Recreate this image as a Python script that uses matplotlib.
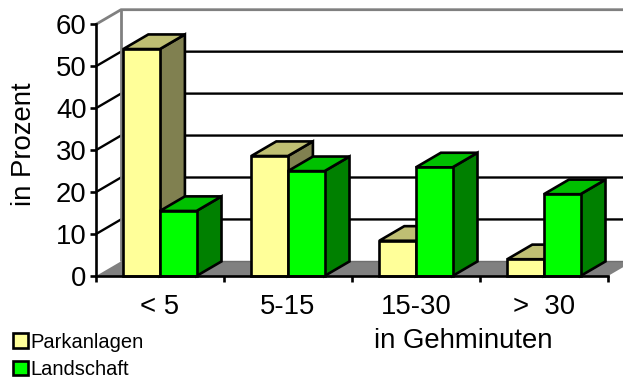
import matplotlib
matplotlib.use("Agg")
import matplotlib.pyplot as plt
from matplotlib.patches import Polygon, Patch

plt.rcParams["font.family"] = ["Liberation Sans", "DejaVu Sans"]

categories = ["< 5", "5-15", "15-30", ">  30"]
parkanlagen = [54.1, 28.6, 8.4, 4.0]
landschaft = [15.5, 25.0, 25.9, 19.5]
y_ticks = [0, 10, 20, 30, 40, 50, 60]

W, H = 623, 381
X0, X1, Y0, Y60 = 96, 608, 276, 24.3
DX = 25 / 128          # oblique depth in category units
DY = 14.6 / 4.195      # oblique depth in value units
BAR_W = 36.6 / 128
BAR_START = 27.3 / 128
LW = 1.9
FS = 19.8

fig = plt.figure(figsize=(W / 100, H / 100), dpi=100)
ax = fig.add_axes([X0 / W, 1 - Y0 / H, (X1 - X0) / W, (Y0 - Y60) / H])
ax.set_xlim(0, 4)
ax.set_ylim(0, 60)
ax.patch.set_visible(False)


def poly(points, color, edge="black", lw=LW, z=2):
    ax.add_patch(Polygon(points, closed=True, facecolor=color, edgecolor=edge,
                         linewidth=lw, joinstyle="miter", clip_on=False, zorder=z))


def seg(xs, ys, color="black", lw=1.7, z=1):
    ax.plot(xs, ys, color=color, lw=lw, clip_on=False, zorder=z,
            solid_capstyle="butt")


# Floor of the 3D box
poly([(0, 0), (4, 0), (4 + DX, DY), (DX, DY)], "#808080", edge="none", lw=0, z=1)
seg([DX, 4 + DX], [DY, DY], "#6e6e6e", 1.0, 1.1)

# Back and side walls with their gridlines
for v in y_ticks[1:-1]:
    seg([0, DX, 4 + DX], [v, v + DY, v + DY])
seg([0, DX, 4 + DX], [60, 60 + DY, 60 + DY], "#808080", 2.0)
seg([DX, DX], [DY, 60 + DY], "#808080", 2.0)

# Oblique columns: two per category, left to right
z = 3
for i in range(len(categories)):
    for j, (vals, front, top, side) in enumerate([
        (parkanlagen, "#FFFF99", "#BFBF73", "#808050"),
        (landschaft, "#00FF00", "#00C000", "#008000"),
    ]):
        v = vals[i]
        x = i + BAR_START + j * BAR_W
        poly([(x + BAR_W, 0), (x + BAR_W + DX, DY), (x + BAR_W + DX, v + DY),
              (x + BAR_W, v)], side, z=z)
        poly([(x, v), (x + DX, v + DY), (x + BAR_W + DX, v + DY),
              (x + BAR_W, v)], top, z=z)
        ax.bar(x, v, BAR_W, align="edge", color=front, edgecolor="black",
               linewidth=LW, zorder=z, clip_on=False)
        z += 1

# Axes
for s in ("top", "right"):
    ax.spines[s].set_visible(False)
for s in ("left", "bottom"):
    ax.spines[s].set_linewidth(LW)
    ax.spines[s].set_zorder(40)
ax.set_yticks(y_ticks)
ax.set_xticks(range(len(categories) + 1))
ax.set_xticklabels([])
ax.tick_params(axis="both", width=LW, length=4.2, labelsize=FS, pad=2.5, zorder=40)
ax.set_xticks([i + 0.5 for i in range(len(categories))], minor=True)
ax.set_xticklabels(categories, minor=True, fontsize=FS)
ax.tick_params(axis="x", which="minor", length=0, pad=13.2)

fig.text(24.5 / W, 1 - 144 / H, "in Prozent", rotation=90, fontsize=FS,
         ha="center", va="center")
fig.text(463 / W, 1 - 341.5 / H, "in Gehminuten", fontsize=FS, ha="center", va="center")

# Legend
handles = [Patch(facecolor="#FFFF99", edgecolor="black", linewidth=LW),
           Patch(facecolor="#00FF00", edgecolor="black", linewidth=LW)]
fig.legend(handles, ["Parkanlagen", "Landschaft"], frameon=False, fontsize=14.5,
           loc="lower left", bbox_to_anchor=(9 / W, 1 - 383 / H), borderaxespad=0,
           borderpad=0.2, handlelength=0.72, handleheight=0.72, handletextpad=0.15,
           labelspacing=0.42)

fig.savefig("out.png", dpi=100)
